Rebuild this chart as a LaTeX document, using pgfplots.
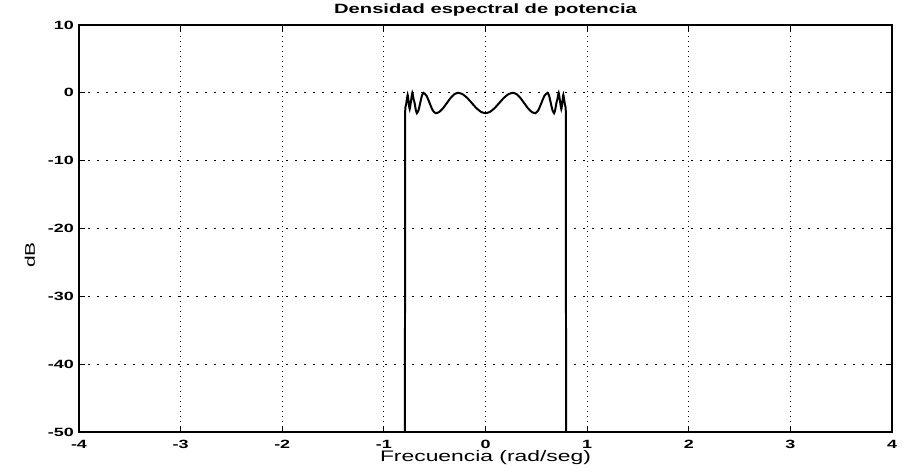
\documentclass[border=0pt]{standalone}
\usepackage{fontspec}
\setmainfont{Liberation Sans}[FakeStretch=1.5]
\usepackage{pgfplots}
\pgfplotsset{compat=1.18}

\begin{document}
\begin{tikzpicture}
\path[use as bounding box] (-79bp,-43bp) rectangle (831bp,432bp);
\begin{axis}[
    scale only axis,
    width=813bp, height=407bp,
    xmin=-4, xmax=4, ymin=-50, ymax=10,
    xtick={-4,-3,...,4},
    ytick={-50,-40,...,10},
    tick align=inside,
    major tick length=6bp,
    tick style={black, line width=0.9pt},
    axis line style={line width=1.3pt},
    grid=major,
    x grid style={black, line width=0.9pt, dash pattern=on 1bp off 4bp},
    y grid style={black, line width=0.9pt, dash pattern=on 1.6bp off 7.4bp},
    /pgf/number format/assume math mode=true,
    tick label style={font=\fontsize{12}{13}\selectfont\bfseries, inner sep=0pt},
    xticklabel style={anchor=base, yshift=-16.5bp},
    yticklabel style={anchor=east, xshift=-5bp},
    every axis title shift=0pt,
    title={Densidad espectral de potencia},
    title style={font=\fontsize{13.5}{15}\selectfont\bfseries, at={(0.5,1)}, anchor=base, yshift=12bp, inner sep=0pt},
    xlabel={Frecuencia (rad/seg)},
    xlabel style={font=\fontsize{15.3}{16}\selectfont, at={(0.5,0)}, anchor=base, yshift=-29.5bp, inner sep=0pt},
    ylabel={dB},
    ylabel style={font=\fontsize{14}{15}\selectfont, at={(0,0.435)}, anchor=center, yshift=49bp, inner sep=0pt},
    clip=true,
]
\addplot[black, line width=2pt, smooth, tension=0.35] coordinates {
    (-0.793,-60) (-0.792,-30) (-0.791,-6) (-0.789,-2.2) (-0.780,-1.6)
    (-0.766,-0.3) (-0.756,-1.4) (-0.746,-2.4) (-0.733,-1.2) (-0.720,0)
    (-0.708,-0.9) (-0.6975,-1.5) (-0.686,-2.5) (-0.675,-3) (-0.659,-2.56)
    (-0.6425,-1.5) (-0.626,-0.44) (-0.610,0) (-0.580,-0.439) (-0.550,-1.5)
    (-0.520,-2.561) (-0.490,-3) (-0.453,-2.799) (-0.417,-2.25) (-0.380,-1.5)
    (-0.343,-0.75) (-0.307,-0.201) (-0.270,0) (-0.225,-0.201) (-0.180,-0.75)
    (-0.135,-1.5) (-0.090,-2.25) (-0.045,-2.799) (0,-3)
    (0.045,-2.799) (0.090,-2.25) (0.135,-1.5) (0.180,-0.75) (0.225,-0.201)
    (0.270,0) (0.307,-0.201) (0.343,-0.75) (0.380,-1.5) (0.417,-2.25)
    (0.453,-2.799) (0.490,-3) (0.520,-2.561) (0.550,-1.5) (0.580,-0.439)
    (0.610,0) (0.626,-0.44) (0.6425,-1.5) (0.659,-2.56) (0.675,-3)
    (0.686,-2.5) (0.6975,-1.5) (0.708,-0.9) (0.720,0) (0.733,-1.2)
    (0.746,-2.4) (0.756,-1.4) (0.766,-0.3) (0.780,-1.6) (0.789,-2.2)
    (0.791,-6) (0.792,-30) (0.793,-60)
};
\end{axis}
\end{tikzpicture}
\end{document}
